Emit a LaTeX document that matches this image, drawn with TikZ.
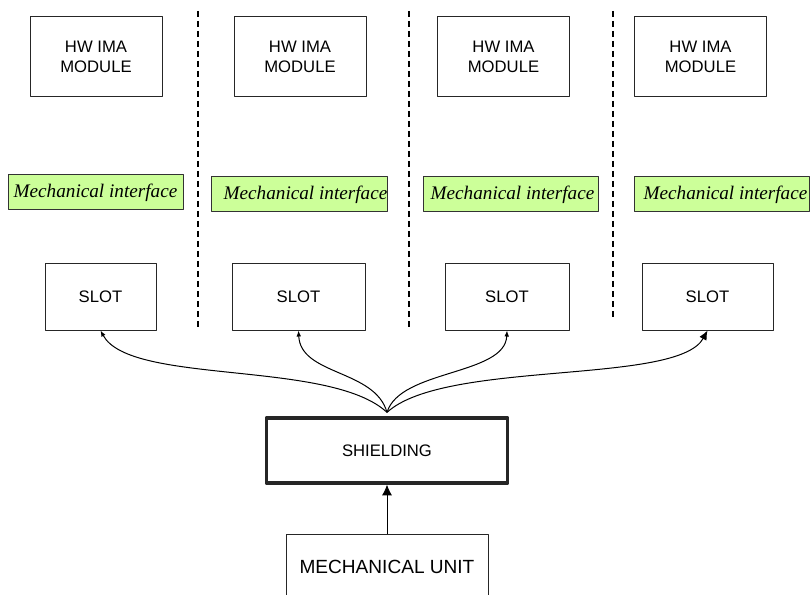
\documentclass[tikz,border=0pt]{standalone}
\usepackage{fontspec}
\setmainfont{Liberation Sans}
\newfontfamily\timesfont{Liberation Serif}
\usetikzlibrary{arrows.meta}
\definecolor{ifacegreen}{RGB}{204,255,153}
\begin{document}
\begin{tikzpicture}[x=0.75pt,y=-0.75pt,line join=round,
  box/.style={draw=black!85,line width=0.75pt,inner sep=0pt,align=center,font=\fontsize{12.5}{14.5}\selectfont},
  iface/.style={draw=black!80,fill=ifacegreen,line width=0.75pt,inner sep=0pt,minimum width=131.25pt,minimum height=26.25pt,font=\timesfont\itshape\fontsize{14.4}{17}\selectfont},
  sep/.style={dashed,dash pattern=on 4.5pt off 3pt,line width=1.1pt},
  tipsmall/.style={-{Latex[length=4.5pt,width=3.5pt]}},
  tipbig/.style={-{Latex[length=7pt,width=6pt]}}]
\useasboundingbox (0,0) rectangle (810,595);
\clip (0,0) rectangle (810,595);
\foreach \x/\yb in {198/330,409/330,613/318}{
\draw[sep] (\x,11)--(\x,\yb);
}
\foreach \hx/\mx/\my/\tx/\sx/\sw [count=\i from 1] in {96/95.5/192.5/0/100.5/83.25, 300/299.5/194.5/9/298.5/99.75, 503.5/510.5/194.5/3/507/93, 700.5/721.5/194.5/6/707.5/98.25}{
\node[box,minimum width=99pt,minimum height=60pt] (hw\i) at (\hx,57) {HW IMA\\MODULE};
\node[iface] (mi\i) at (\mx,\my) {\hspace*{\tx pt}Mechanical interface};
\node[box,minimum width=\sw pt,minimum height=49.5pt] (sl\i) at (\sx,297) {SLOT};
}
\node[box,line width=2.7pt,minimum width=181pt,minimum height=48.5pt] (sh) at (387,450.5) {SHIELDING};
\node[box,minimum width=151.5pt,minimum height=49.5pt,font=\fontsize{14.3}{17}\selectfont] (mu) at (387,567) {MECHANICAL UNIT};
\coordinate (jn) at ([yshift=3pt]sh.north);
\foreach \i/\ax/\ay/\bx/\by/\tip in {1/-57/-53/30/55/tipsmall, 2/-12/-43/2/45/tipsmall, 3/13/-43/-2/45/tipsmall, 4/58/-53/-30/55/tipbig}{
\draw[\tip,line width=0.75pt] (jn) .. controls +(\ax,\ay) and +(\bx,\by) .. (sl\i.south);
}
\draw[-{Latex[length=8pt,width=7.5pt]},line width=0.75pt] (mu.north)--(sh.south);
\end{tikzpicture}
\end{document}
